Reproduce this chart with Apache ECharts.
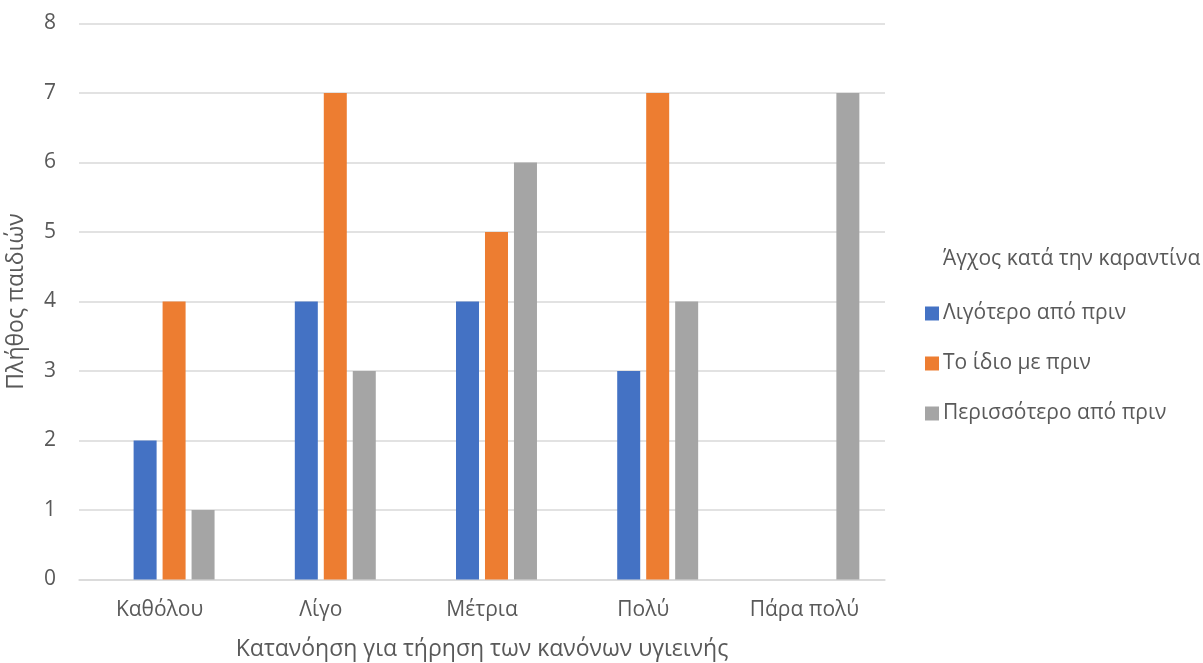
<!DOCTYPE html>
<html>
<head>
<meta charset="utf-8">
<script src="https://cdn.jsdelivr.net/npm/echarts@6/dist/echarts.min.js"></script>
<style>
  html, body { margin: 0; padding: 0; background: #fff; }
  #chart { width: 1203px; height: 663px; }
</style>
</head>
<body>
<div id="chart"></div>
<script>
const categories = ['Καθόλου', 'Λίγο', 'Μέτρια', 'Πολύ', 'Πάρα πολύ'];
const lessThanBefore = [2, 4, 4, 3, 0];
const sameAsBefore = [4, 7, 5, 7, 0];
const moreThanBefore = [1, 3, 6, 4, 7];
// empty leading slot in each group
const emptySlot = [null, null, null, null, null];
const yTicks = [0, 1, 2, 3, 4, 5, 6, 7, 8];

const seriesNames = ['Λιγότερο από πριν', 'Το ίδιο με πριν', 'Περισσότερο από πριν'];
const colors = ['#4472C4', '#ED7D31', '#A5A5A5'];
const font = '"Open Sans", "Noto Sans", sans-serif';
const textColor = '#595959';

const chart = echarts.init(document.getElementById('chart'), null, { renderer: 'canvas' });

const barCommon = { type: 'bar', barWidth: 23, barGap: '26%' };

chart.setOption({
  animation: false,
  textStyle: { fontFamily: font },
  grid: {
    left: 79, right: 318, top: 23.5, bottom: 83.5,
    containLabel: false, outerBoundsMode: 'none'
  },
  title: {
    text: 'Άγχος κατά την καραντίνα',
    left: 938, top: 244,
    textStyle: { fontFamily: font, fontSize: 21, fontWeight: 'normal', color: textColor }
  },
  legend: {
    data: seriesNames,
    orient: 'vertical',
    left: 920, top: 298,
    itemWidth: 14, itemHeight: 14, itemGap: 29,
    icon: 'rect',
    textStyle: { fontFamily: font, fontSize: 21, color: textColor, padding: [0, 0, 0, -1] }
  },
  xAxis: {
    type: 'category',
    data: categories,
    name: 'Κατανόηση για τήρηση των κανόνων υγιεινής',
    nameLocation: 'middle',
    nameGap: 58,
    nameTextStyle: { fontFamily: font, fontSize: 23, color: textColor },
    axisLine: { lineStyle: { color: '#D9D9D9', width: 1.5 } },
    axisTick: { show: false },
    axisLabel: { fontFamily: font, fontSize: 21, color: textColor, margin: 20 }
  },
  yAxis: {
    type: 'value',
    min: yTicks[0], max: yTicks[yTicks.length - 1], interval: 1,
    name: 'Πλήθος παιδιών',
    nameLocation: 'middle',
    nameGap: 51,
    nameRotate: 90,
    nameTextStyle: { fontFamily: font, fontSize: 23, color: textColor },
    axisLine: { show: false },
    axisTick: { show: false },
    splitLine: { lineStyle: { color: '#D9D9D9', width: 1.5 } },
    axisLabel: { fontFamily: font, fontSize: 21, color: textColor, margin: 23 }
  },
  series: [
    Object.assign({ name: '', data: emptySlot, itemStyle: { color: 'transparent' } }, barCommon),
    Object.assign({ name: seriesNames[0], data: lessThanBefore, itemStyle: { color: colors[0] } }, barCommon),
    Object.assign({ name: seriesNames[1], data: sameAsBefore, itemStyle: { color: colors[1] } }, barCommon),
    Object.assign({ name: seriesNames[2], data: moreThanBefore, itemStyle: { color: colors[2] } }, barCommon)
  ]
});
</script>
</body>
</html>
